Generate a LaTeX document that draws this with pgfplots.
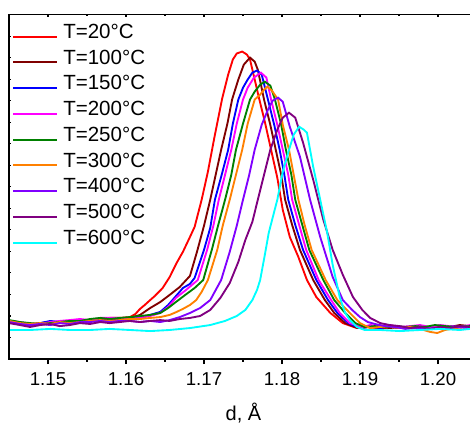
\documentclass[border=0pt]{standalone}
\usepackage{fontspec}
\setmainfont{Liberation Sans}
\usepackage{pgfplots}
\pgfplotsset{compat=1.18}
\definecolor{cred}{RGB}{255,0,0}
\definecolor{cbrown}{RGB}{128,0,0}
\definecolor{cblue}{RGB}{0,0,255}
\definecolor{cmagenta}{RGB}{255,0,255}
\definecolor{cgreen}{RGB}{0,128,0}
\definecolor{corange}{RGB}{255,128,0}
\definecolor{cviolet}{RGB}{128,0,255}
\definecolor{cpurple}{RGB}{128,0,128}
\definecolor{ccyan}{RGB}{0,255,255}
\begin{document}
\begin{tikzpicture}
\begin{axis}[name=ax, scale only axis, width=351.75pt, height=258.4pt,
  xmin=1.145, xmax=1.20513, ymin=0, ymax=16,
  axis line style={line width=1pt},
  xtick={1.15,1.16,1.17,1.18,1.19,1.20},
  xticklabels={1.15,1.16,1.17,1.18,1.19,1.20},
  minor x tick num=1, xtick pos=left, tick align=outside,
  major tick length=3.75pt, minor tick length=2pt,
  tick style={line width=0.8pt, black},
  ytick=\empty,
  xticklabel style={font=\fontsize{14}{14}\selectfont, anchor=base, yshift=-16pt},
  xlabel={d, Å},
  xlabel style={font=\fontsize{15}{15}\selectfont, at={(axis description cs:0.5,0)}, anchor=base, yshift=-45.75pt},
  legend style={at={(axis description cs:0,1)}, anchor=north west, xshift=3pt, yshift=-7pt,
    draw=none, fill=none, inner sep=0pt, outer sep=0pt, row sep=0pt, column sep=4.5pt,
    font=\fontsize{15.4}{15.4}\selectfont,
    nodes={inner sep=0pt, text height=10.9pt, text depth=8.4pt}},
  legend cell align=left,
  legend image code/.code={\path[#1, draw=none, fill] (0pt,-0.75pt) rectangle (33.2pt,0.75pt);},
  every axis plot/.append style={line width=1.4pt},
]
\addplot[cred] coordinates {(1.1450,1.72)(1.1464,1.67)(1.1477,1.58)(1.1490,1.63)(1.1503,1.67)(1.1515,1.72)(1.1528,1.77)(1.1541,1.77)(1.1554,1.81)(1.1567,1.86)(1.1579,1.91)(1.1592,1.91)(1.1605,1.95)(1.1612,2.09)(1.1618,2.33)(1.1624,2.51)(1.1631,2.74)(1.1637,2.93)(1.1647,3.30)(1.1656,3.81)(1.1665,4.47)(1.1673,4.98)(1.1682,5.67)(1.1688,6.14)(1.1697,7.40)(1.1705,8.70)(1.1714,10.42)(1.1723,12.05)(1.1731,13.21)(1.1737,13.91)(1.1742,14.19)(1.1749,14.28)(1.1755,14.14)(1.1759,13.91)(1.1765,12.98)(1.1771,12.05)(1.1778,11.02)(1.1786,9.72)(1.1794,8.42)(1.1801,6.93)(1.1810,5.67)(1.1821,4.74)(1.1832,3.67)(1.1844,2.88)(1.1862,2.14)(1.1878,1.67)(1.1896,1.44)(1.1913,1.49)(1.1926,1.40)(1.1938,1.49)(1.1951,1.44)(1.1964,1.49)(1.1977,1.40)(1.1990,1.49)(1.2003,1.53)(1.2015,1.44)(1.2028,1.53)(1.2041,1.49)};
\addlegendentry{T=20°C}
\addplot[cbrown] coordinates {(1.1450,1.77)(1.1464,1.67)(1.1477,1.63)(1.1490,1.67)(1.1503,1.72)(1.1515,1.67)(1.1528,1.77)(1.1541,1.72)(1.1554,1.81)(1.1567,1.81)(1.1579,1.86)(1.1592,1.86)(1.1605,1.91)(1.1618,2.05)(1.1631,2.37)(1.1644,2.65)(1.1656,2.98)(1.1669,3.35)(1.1682,3.86)(1.1691,4.98)(1.1700,6.19)(1.1708,7.40)(1.1715,8.56)(1.1722,9.72)(1.1730,10.93)(1.1736,12.05)(1.1744,12.98)(1.1751,13.67)(1.1759,14.00)(1.1765,13.81)(1.1769,13.44)(1.1777,12.05)(1.1785,10.88)(1.1792,9.72)(1.1799,8.56)(1.1804,7.40)(1.1813,6.23)(1.1823,5.07)(1.1840,3.67)(1.1855,2.74)(1.1867,2.14)(1.1881,1.67)(1.1897,1.44)(1.1913,1.53)(1.1926,1.49)(1.1938,1.44)(1.1951,1.49)(1.1964,1.44)(1.1977,1.53)(1.1990,1.44)(1.2003,1.49)(1.2015,1.49)(1.2028,1.58)(1.2041,1.53)};
\addlegendentry{T=100°C}
\addplot[cblue] coordinates {(1.1450,1.72)(1.1464,1.63)(1.1477,1.58)(1.1490,1.67)(1.1503,1.77)(1.1515,1.72)(1.1528,1.72)(1.1541,1.77)(1.1554,1.81)(1.1567,1.86)(1.1579,1.91)(1.1592,1.86)(1.1605,1.86)(1.1618,1.91)(1.1631,2.05)(1.1644,2.19)(1.1654,2.51)(1.1663,2.88)(1.1673,3.30)(1.1682,3.49)(1.1688,3.77)(1.1700,5.07)(1.1708,6.09)(1.1714,7.40)(1.1723,8.60)(1.1731,9.72)(1.1737,10.93)(1.1744,12.05)(1.1750,12.60)(1.1756,12.98)(1.1762,13.30)(1.1768,13.40)(1.1774,13.21)(1.1782,12.05)(1.1790,10.88)(1.1797,9.72)(1.1803,8.56)(1.1808,7.40)(1.1817,6.23)(1.1827,5.07)(1.1844,3.67)(1.1859,2.74)(1.1871,2.14)(1.1885,1.67)(1.1900,1.44)(1.1913,1.49)(1.1926,1.44)(1.1938,1.53)(1.1951,1.44)(1.1964,1.49)(1.1977,1.44)(1.1990,1.49)(1.2003,1.44)(1.2015,1.53)(1.2028,1.49)(1.2041,1.53)};
\addlegendentry{T=150°C}
\addplot[cmagenta] coordinates {(1.1450,1.77)(1.1464,1.72)(1.1477,1.63)(1.1490,1.63)(1.1503,1.72)(1.1515,1.77)(1.1528,1.81)(1.1541,1.86)(1.1554,1.81)(1.1567,1.91)(1.1579,1.91)(1.1592,1.91)(1.1605,1.86)(1.1618,1.91)(1.1631,2.00)(1.1644,2.14)(1.1654,2.42)(1.1664,2.84)(1.1677,3.21)(1.1692,3.67)(1.1704,5.07)(1.1712,6.19)(1.1719,7.40)(1.1727,8.56)(1.1735,9.72)(1.1742,10.93)(1.1750,12.05)(1.1756,12.60)(1.1764,13.07)(1.1773,13.30)(1.1780,13.07)(1.1786,12.05)(1.1794,10.88)(1.1801,9.72)(1.1808,8.56)(1.1813,7.40)(1.1822,6.23)(1.1831,5.07)(1.1847,3.67)(1.1863,2.74)(1.1874,2.14)(1.1887,1.67)(1.1903,1.49)(1.1913,1.58)(1.1926,1.53)(1.1938,1.58)(1.1951,1.49)(1.1964,1.53)(1.1977,1.58)(1.1990,1.49)(1.2003,1.58)(1.2015,1.53)(1.2028,1.49)(1.2041,1.58)};
\addlegendentry{T=200°C}
\addplot[cgreen] coordinates {(1.1450,1.81)(1.1464,1.72)(1.1477,1.67)(1.1490,1.63)(1.1503,1.67)(1.1515,1.72)(1.1528,1.77)(1.1541,1.77)(1.1554,1.86)(1.1567,1.91)(1.1579,1.86)(1.1592,1.91)(1.1605,1.95)(1.1618,2.00)(1.1631,2.05)(1.1644,2.14)(1.1654,2.37)(1.1664,2.65)(1.1676,2.98)(1.1688,3.30)(1.1699,3.67)(1.1710,5.07)(1.1718,6.19)(1.1727,7.40)(1.1735,8.56)(1.1741,9.72)(1.1750,10.93)(1.1759,12.05)(1.1765,12.42)(1.1772,12.74)(1.1778,12.88)(1.1785,12.70)(1.1791,12.05)(1.1799,10.88)(1.1805,9.72)(1.1812,8.56)(1.1817,7.40)(1.1826,6.23)(1.1835,5.07)(1.1853,3.67)(1.1867,2.74)(1.1881,2.14)(1.1894,1.67)(1.1906,1.49)(1.1919,1.53)(1.1932,1.49)(1.1945,1.53)(1.1958,1.49)(1.1971,1.53)(1.1983,1.49)(1.1996,1.58)(1.2009,1.53)(1.2022,1.49)(1.2041,1.53)};
\addlegendentry{T=250°C}
\addplot[corange] coordinates {(1.1450,1.77)(1.1464,1.67)(1.1477,1.63)(1.1490,1.67)(1.1503,1.63)(1.1515,1.72)(1.1528,1.67)(1.1541,1.72)(1.1554,1.77)(1.1567,1.81)(1.1579,1.77)(1.1592,1.81)(1.1605,1.86)(1.1618,1.86)(1.1631,1.91)(1.1644,1.95)(1.1656,2.05)(1.1665,2.19)(1.1673,2.33)(1.1682,2.51)(1.1690,2.74)(1.1697,3.12)(1.1705,3.67)(1.1717,5.07)(1.1724,6.19)(1.1733,7.40)(1.1741,8.56)(1.1749,9.72)(1.1756,10.93)(1.1765,12.05)(1.1772,12.28)(1.1777,12.51)(1.1781,12.65)(1.1787,12.47)(1.1795,12.05)(1.1801,10.88)(1.1809,9.72)(1.1815,8.56)(1.1821,7.40)(1.1829,6.23)(1.1838,5.07)(1.1856,3.67)(1.1871,2.74)(1.1887,2.14)(1.1900,1.67)(1.1913,1.44)(1.1926,1.49)(1.1938,1.53)(1.1951,1.44)(1.1964,1.49)(1.1977,1.40)(1.1990,1.26)(1.1999,1.21)(1.2009,1.35)(1.2022,1.44)(1.2041,1.49)};
\addlegendentry{T=300°C}
\addplot[cviolet] coordinates {(1.1450,1.72)(1.1464,1.63)(1.1477,1.58)(1.1490,1.63)(1.1503,1.58)(1.1515,1.67)(1.1528,1.63)(1.1541,1.72)(1.1554,1.72)(1.1567,1.77)(1.1579,1.72)(1.1592,1.77)(1.1605,1.77)(1.1618,1.72)(1.1631,1.77)(1.1644,1.72)(1.1656,1.81)(1.1669,1.95)(1.1682,2.14)(1.1695,2.37)(1.1708,2.74)(1.1722,3.67)(1.1733,4.98)(1.1742,6.19)(1.1750,7.40)(1.1758,8.56)(1.1765,9.72)(1.1774,10.88)(1.1782,11.58)(1.1788,12.00)(1.1795,12.14)(1.1801,11.95)(1.1810,10.79)(1.1823,9.40)(1.1836,7.40)(1.1849,5.67)(1.1865,3.81)(1.1878,2.74)(1.1890,2.28)(1.1900,1.95)(1.1910,1.72)(1.1919,1.63)(1.1932,1.53)(1.1945,1.49)(1.1958,1.40)(1.1971,1.44)(1.1983,1.40)(1.1996,1.44)(1.2009,1.40)(1.2022,1.49)(1.2041,1.44)};
\addlegendentry{T=400°C}
\addplot[cpurple] coordinates {(1.1450,1.67)(1.1464,1.58)(1.1477,1.49)(1.1490,1.58)(1.1503,1.63)(1.1515,1.53)(1.1528,1.58)(1.1541,1.67)(1.1554,1.63)(1.1567,1.72)(1.1579,1.67)(1.1592,1.72)(1.1605,1.77)(1.1618,1.72)(1.1631,1.77)(1.1644,1.81)(1.1656,1.77)(1.1669,1.86)(1.1682,1.91)(1.1695,2.00)(1.1708,2.28)(1.1721,2.84)(1.1733,3.53)(1.1744,4.51)(1.1753,5.53)(1.1762,6.37)(1.1769,7.40)(1.1778,8.70)(1.1785,9.72)(1.1794,10.65)(1.1801,11.21)(1.1809,11.44)(1.1817,11.21)(1.1827,10.05)(1.1840,8.33)(1.1853,6.47)(1.1865,5.07)(1.1878,3.91)(1.1891,2.88)(1.1903,2.28)(1.1913,1.91)(1.1926,1.67)(1.1938,1.58)(1.1951,1.53)(1.1964,1.44)(1.1977,1.49)(1.1990,1.40)(1.2003,1.49)(1.2015,1.44)(1.2028,1.53)(1.2041,1.49)};
\addlegendentry{T=500°C}
\addplot[ccyan] coordinates {(1.1450,1.35)(1.1477,1.35)(1.1503,1.40)(1.1528,1.35)(1.1554,1.35)(1.1579,1.40)(1.1605,1.35)(1.1631,1.30)(1.1656,1.35)(1.1682,1.44)(1.1708,1.58)(1.1727,1.77)(1.1742,2.00)(1.1753,2.28)(1.1762,2.74)(1.1768,3.21)(1.1772,3.67)(1.1778,4.84)(1.1783,5.86)(1.1794,7.40)(1.1801,8.70)(1.1809,9.72)(1.1815,10.42)(1.1822,10.79)(1.1828,10.65)(1.1832,10.51)(1.1840,8.93)(1.1849,7.40)(1.1858,5.86)(1.1865,4.37)(1.1874,2.88)(1.1881,2.14)(1.1887,1.81)(1.1896,1.49)(1.1906,1.35)(1.1926,1.35)(1.1951,1.30)(1.1977,1.35)(1.2003,1.40)(1.2028,1.35)(1.2041,1.40)};
\addlegendentry{T=600°C}
\end{axis}
\begin{axis}[scale only axis, width=351.75pt, height=258.4pt,
  xmin=1.145, xmax=1.20513, ymin=0, ymax=16,
  axis line style={line width=1pt},
  xtick={1.15,1.16,1.17,1.18,1.19,1.20}, xticklabels={},
  minor x tick num=1, xtick pos=right,
  ytick={1,2,...,15}, yticklabels={}, ytick pos=left,
  tick align=inside, major tick length=1.8pt, minor tick length=1.2pt,
  tick style={line width=0.8pt, black}]
\end{axis}
\pgfresetboundingbox
\path[use as bounding box] ([shift={(-6.75pt,-50.25pt)}]ax.south west) rectangle ([shift={(-6pt,10.9pt)}]ax.north east);
\end{tikzpicture}
\end{document}
